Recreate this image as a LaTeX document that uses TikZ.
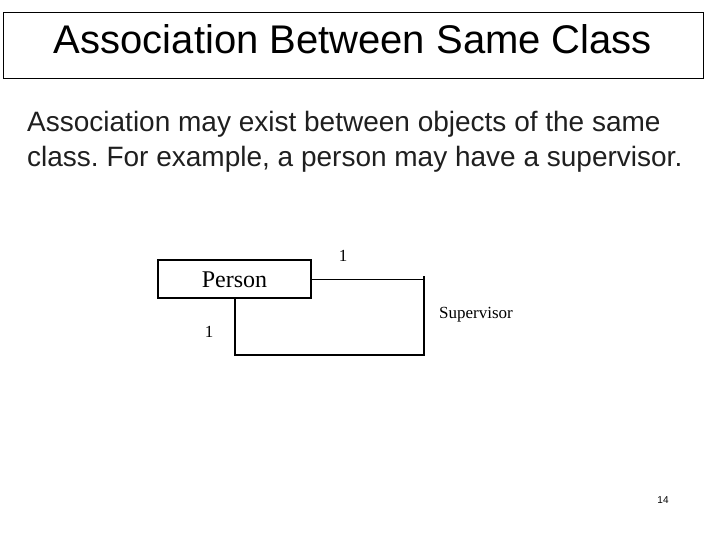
\documentclass[tikz,border=0pt]{standalone}
\usepackage{fontspec}
\setmainfont{Liberation Sans}
\newfontfamily\umlfont{Liberation Serif}
\usepackage{tikz}
\usetikzlibrary{positioning}
\frenchspacing

\begin{document}
\begin{tikzpicture}[x=1pt, y=-1pt]
        \tikzset{titlebox/.style={rectangle, draw, line width=0.9pt, minimum width=700pt, minimum height=66pt, inner sep=0pt, font=\fontsize{40}{44}\selectfont, text height=29pt, text depth=11pt}}
        \tikzset{bodytext/.style={anchor=base west, inner sep=0pt, font=\fontsize{28}{34}\selectfont, text=black!88}}
        \tikzset{classbox/.style={rectangle, draw, line width=1.1pt, minimum width=153pt, minimum height=38pt, inner sep=0pt, font=\umlfont\fontsize{24}{28}\selectfont, text height=16pt, text depth=0pt}}
        \tikzset{umllabel/.style={inner sep=0pt, font=\umlfont\fontsize{17}{20}\selectfont}}
        \tikzset{assoc/.style={line width=1.5pt}}
        \useasboundingbox (0,0) rectangle (720,540);

        \node [titlebox] (title) at (353,45) {Association Between Same Class};
        \node [bodytext] (line1) at (27,132) {Association may exist between objects of the same};
        \node [bodytext] (line2) at (27,167) {class. For example, a person may have a supervisor.};

        \node [classbox] (person) at (234.5,279) {Person};
        \coordinate (ne) at (424,276);
        \coordinate (se) at (424,355);
        \coordinate (sw) at (235,355);

        \draw [line width=0.8pt] (person.east) -- (person.east -| ne);
        \draw [assoc] (ne) -- (se) -- (sw) -- (person.south -| sw);

        \node [umllabel] (mtop) at (343,256) {1};
        \node [umllabel] (mleft) at (209,332) {1};
        \node [umllabel, anchor=west] (role) at (439,315) {Supervisor};

        \node [inner sep=0pt, font=\fontsize{10}{12}\selectfont] (page) at (663,500) {14};
    \end{tikzpicture}
\end{document}
